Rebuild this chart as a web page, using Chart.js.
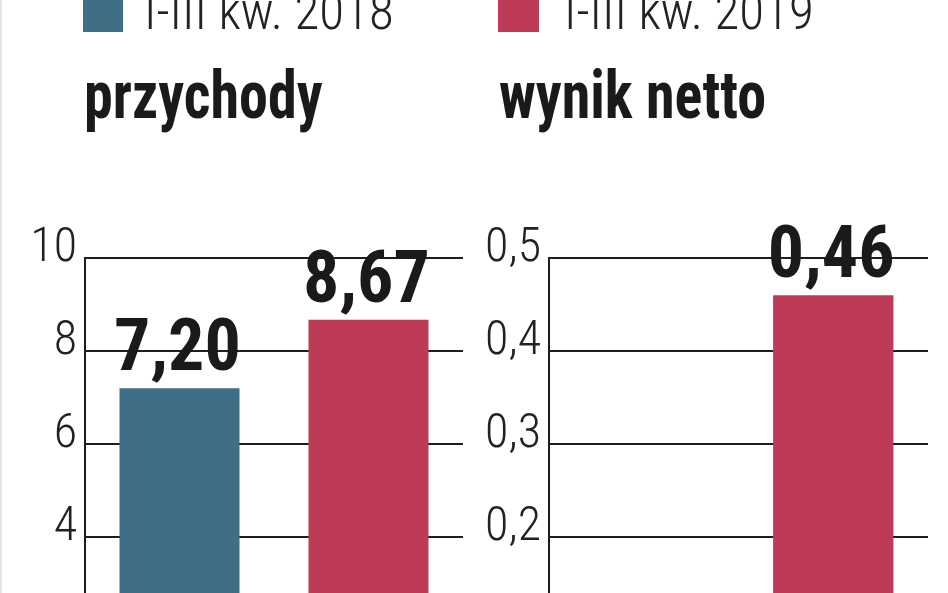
<!DOCTYPE html>
<html>
<head>
<meta charset="utf-8">
<script src="https://cdn.jsdelivr.net/npm/chart.js@4.4.0/dist/chart.umd.min.js"></script>
<style>
  html, body { margin:0; padding:0; background:#fff; }
  #stage { position:relative; width:948px; height:593px; overflow:hidden; background:#fff; }
  #edge { position:absolute; left:0; top:0; width:2px; height:593px; background:#e4e4e4; }
  .box { position:absolute; }
  .sq { position:absolute; }
  .txt { position:absolute; white-space:nowrap; line-height:1; color:#222; transform-origin:0 0; }
  .leg { font-family:"Roboto Condensed","Open Sans",sans-serif; font-weight:300; font-size:51px; }
  .ttl { font-family:"Roboto Condensed","Open Sans",sans-serif; font-weight:700; font-size:66px; color:#1a1a1a; transform:scaleX(0.88); }
</style>
</head>
<body>
<div id="stage">
  <div id="edge"></div>
  <div class="sq" id="sq1" style="left:83px;top:-8px;width:40px;height:40px;"></div>
  <div class="txt leg" id="lg1" style="left:144px;top:-14px;"></div>
  <div class="sq" id="sq2" style="left:498px;top:-8px;width:41px;height:40px;"></div>
  <div class="txt leg" id="lg2" style="left:564px;top:-14px;"></div>
  <div class="txt ttl" id="t1" style="left:84px;top:63px;"></div>
  <div class="txt ttl" id="t2" style="left:499px;top:63px;"></div>
  <div class="box" style="left:0;top:200px;width:474px;height:560px;"><canvas id="c1"></canvas></div>
  <div class="box" style="left:474px;top:200px;width:474px;height:560px;"><canvas id="c2"></canvas></div>
</div>
<script>
// ---- data ----
const categories = ['I-III kw. 2018', 'I-III kw. 2019'];
const seriesColors = ['#3e6f86', '#be3b57'];
const titles = ['przychody', 'wynik netto'];
const revenue = [7.20, 8.67];
const netResult = [null, 0.46];
const revenueTicks = [0, 10, 2];
const netTicks = [0, 0.5, 0.1];

document.getElementById('sq1').style.background = seriesColors[0];
document.getElementById('sq2').style.background = seriesColors[1];
document.getElementById('lg1').textContent = categories[0];
document.getElementById('lg2').textContent = categories[1];
document.getElementById('t1').textContent = titles[0];
document.getElementById('t2').textContent = titles[1];

const fmt = (v, d) => v.toFixed(d).replace('.', ',');

const valueLabels = {
  id: 'valueLabels',
  afterDatasetsDraw(chart) {
    const ctx = chart.ctx;
    const meta = chart.getDatasetMeta(0);
    const data = chart.data.datasets[0].data;
    ctx.save();
    ctx.font = '700 72px "Roboto Condensed","Open Sans",sans-serif';
    ctx.fillStyle = '#1a1a1a';
    ctx.textAlign = 'center';
    ctx.textBaseline = 'alphabetic';
    meta.data.forEach((bar, i) => {
      if (data[i] == null) return;
      ctx.fillText(fmt(data[i], 2), bar.x - 2, bar.y - 18);
    });
    ctx.restore();
  }
};

function makeChart(id, values, ticks, decimals, axisWidth, padRight) {
  return new Chart(document.getElementById(id), {
    type: 'bar',
    data: {
      labels: categories,
      datasets: [{
        data: values,
        backgroundColor: seriesColors,
        borderWidth: 0,
        barPercentage: 0.635,
        categoryPercentage: 1
      }]
    },
    options: {
      responsive: true,
      maintainAspectRatio: false,
      animation: false,
      events: [],
      layout: { padding: { top: 58, bottom: 29, left: 0, right: padRight } },
      plugins: { legend: { display: false }, tooltip: { enabled: false } },
      scales: {
        x: { display: false },
        y: {
          min: ticks[0], max: ticks[1],
          ticks: {
            stepSize: ticks[2],
            padding: 8,
            labelOffset: -9,
            color: '#222',
            font: { family: '"Roboto Condensed","Open Sans",sans-serif', size: 48, weight: '300' },
            callback: (v) => fmt(v, decimals)
          },
          grid: { color: '#1e1e1e', lineWidth: 2, drawTicks: false },
          border: { display: true, color: '#1e1e1e', width: 2 },
          afterFit: (s) => { s.width = axisWidth; }
        }
      }
    },
    plugins: [valueLabels]
  });
}

makeChart('c1', revenue, revenueTicks, 0, 85, 11);
makeChart('c2', netResult, netTicks, 1, 75, 20);
</script>
</body>
</html>
